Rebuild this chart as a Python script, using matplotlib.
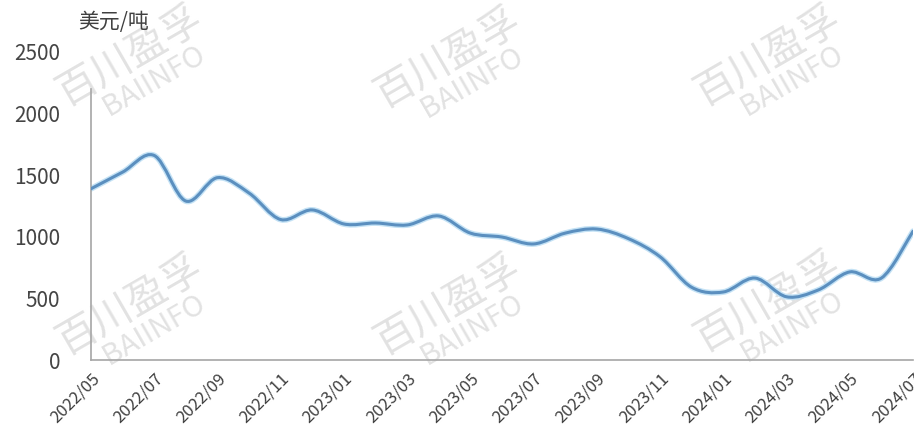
import numpy as np
import matplotlib
matplotlib.use("Agg")
import matplotlib.pyplot as plt
from matplotlib.path import Path
from matplotlib.patches import PathPatch

plt.rcParams['font.family'] = ['Noto Sans CJK SC', 'DejaVu Sans']

# monthly price, USD/t, 2022/05 .. 2024/07
months = ["2022/05", "2022/06", "2022/07", "2022/08", "2022/09", "2022/10",
          "2022/11", "2022/12", "2023/01", "2023/02", "2023/03", "2023/04",
          "2023/05", "2023/06", "2023/07", "2023/08", "2023/09", "2023/10",
          "2023/11", "2023/12", "2024/01", "2024/02", "2024/03", "2024/04",
          "2024/05", "2024/06", "2024/07"]
price = [1390, 1525, 1660, 1290, 1480, 1355, 1140, 1218, 1104, 1112,
         1096, 1169, 1030, 998, 942, 1030, 1063, 985, 838, 590,
         552, 665, 513, 568, 715, 665, 1045]

tick_labels = months[::2]
unit = "美元/吨"


def smooth_path(xs, ys):
    # excel-like smoothed line: catmull-rom turned into cubic bezier segments
    pts = np.column_stack([xs, ys]).astype(float)
    ext = np.vstack([pts[0], pts, pts[-1]])
    verts = [pts[0]]
    codes = [Path.MOVETO]
    for i in range(len(pts) - 1):
        p0, p1, p2, p3 = ext[i], ext[i + 1], ext[i + 2], ext[i + 3]
        verts += [p1 + (p2 - p0) / 6, p2 - (p3 - p1) / 6, p2]
        codes += [Path.CURVE4] * 3
    return Path(verts, codes)


fig = plt.figure(figsize=(9.14, 4.4), dpi=100)
ax = fig.add_axes([91 / 914, 80 / 440, 822 / 914, 308 / 440])
ax.set_zorder(2)
ax.patch.set_alpha(0)

x = np.arange(len(price))
ax.add_patch(PathPatch(smooth_path(x, price), facecolor='none',
                       edgecolor='#c4e2f5', lw=4.2, capstyle='round', zorder=2))
ax.add_patch(PathPatch(smooth_path(x, price), facecolor='none',
                       edgecolor='#5b8fbf', lw=2.2, capstyle='round', zorder=3))

ax.set_xlim(0, len(price) - 1)
ax.set_ylim(0, 2500)
ax.set_yticks(range(0, 2501, 500))
ax.set_xticks(x[::2])
ax.set_xticklabels(tick_labels, rotation=45, ha='right', va='top',
                   rotation_mode='anchor', fontsize=12, color='#404040',
                   fontweight='light')
ax.tick_params(axis='y', length=0, pad=22, labelsize=15, labelcolor='#454545')
ax.tick_params(axis='x', length=0, pad=7)
for lbl in ax.get_yticklabels():
    lbl.set_fontweight('light')

for s in ['top', 'right']:
    ax.spines[s].set_visible(False)
for s in ['left', 'bottom']:
    ax.spines[s].set_color('#a6a6a6')
    ax.spines[s].set_linewidth(1.2)
ax.spines['left'].set_bounds(0, 2200)

fig.text(78 / 914, 1 - 22 / 440, unit, fontsize=15, color='#404040',
         ha='left', va='center')

# watermarks, behind the axes
for cx, cy in [(130, 56), (448, 58), (768, 56), (130, 305), (448, 305), (768, 302)]:
    fig.text(cx / 914, 1 - cy / 440, "百川盈孚", fontsize=29, color='#e2e2e2',
             fontweight='light', rotation=30, ha='center', va='center', zorder=0)
    fig.text((cx + 24) / 914, 1 - (cy + 25) / 440, "BAIINFO", fontsize=21,
             color='#e2e2e2', fontweight='light', rotation=30,
             ha='center', va='center', zorder=0)

fig.savefig("out.png", dpi=100)
